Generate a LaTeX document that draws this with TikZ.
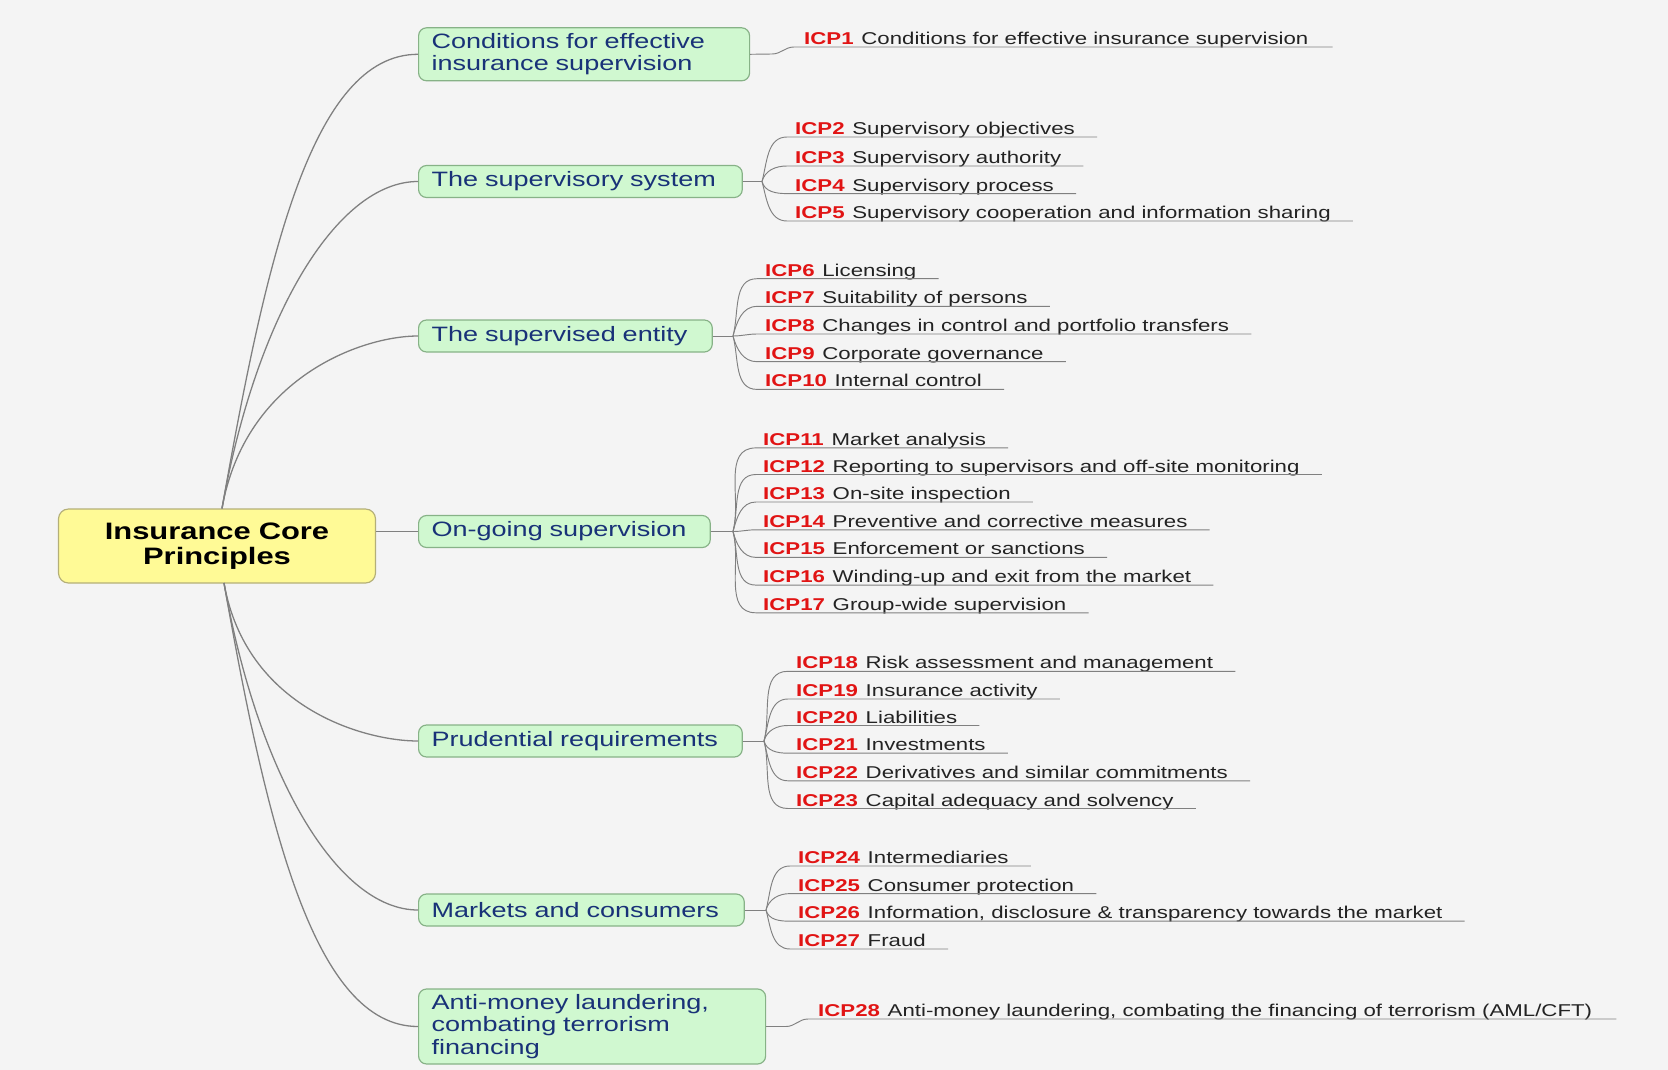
\documentclass[tikz,border=0pt]{standalone}
\usepackage{fontspec}
\setmainfont[FakeStretch=1.3]{Liberation Sans}
\usepackage{xcolor}
\usepackage{tikz}
\usetikzlibrary{positioning}

\definecolor{bgcol}{RGB}{244,244,244}
\definecolor{rootfill}{RGB}{255,250,150}
\definecolor{rootline}{RGB}{180,175,120}
\definecolor{boxfill}{RGB}{208,248,208}
\definecolor{boxline}{RGB}{135,178,135}
\definecolor{boxtext}{RGB}{25,50,120}
\definecolor{icpred}{RGB}{225,20,20}
\definecolor{itemtext}{RGB}{35,35,35}
\definecolor{linkcol}{RGB}{128,128,128}

\newcommand{\icp}[1]{\textbf{\color{icpred}#1}\hspace{0.45em}}

\tikzset{
  rootbox/.style={draw=rootline,fill=rootfill,line width=1pt,rounded corners=0.3cm,align=center,
    font=\fontsize{20.3}{21.8}\selectfont\bfseries,text width=8.91cm,minimum height=2.22cm,inner sep=0.3cm},
  areabox/.style={draw=boxline,fill=boxfill,line width=1pt,rounded corners=0.24cm,align=left,anchor=west,
    font=\fontsize{17.75}{19}\selectfont,text=boxtext,inner xsep=0.39cm,inner ysep=0.05cm,minimum height=0.96cm},
  item/.style={anchor=base west,inner sep=0pt,font=\fontsize{14.6}{16}\selectfont,text=itemtext},
  branch/.style={draw=linkcol,line width=1.1pt},
  twig/.style={draw=linkcol,line width=0.8pt}
}

\begin{document}
\begin{tikzpicture}[x=0.03cm,y=-0.03cm]
  \useasboundingbox (0,0) rectangle (1668,1070);
  \fill[bgcol] (0,0) rectangle (1668,1070);

  % centre and the seven areas
  \node[rootbox] (root) at (217,546) {Insurance Core\\Principles};
  \node[areabox,text width=9.15cm,minimum height=1.59cm] (b1) at (418,54.3) {Conditions for effective\\insurance supervision};
  \node[areabox,text width=8.93cm] (b2) at (418,181.5) {The supervisory system};
  \node[areabox,text width=8.03cm] (b3) at (418,336) {The supervised entity};
  \node[areabox,text width=7.97cm] (b4) at (418,531.5) {On-going supervision};
  \node[areabox,text width=8.93cm] (b5) at (418,741) {Prudential requirements};
  \node[areabox,text width=8.99cm] (b6) at (418,910) {Markets and consumers};
  \node[areabox,text width=9.63cm,minimum height=2.25cm] (b7) at (418,1026.5) {Anti-money laundering,\\combating terrorism\\financing};

  \coordinate (rt) at (222,508.5);
  \coordinate (rb) at (224,583);
  \foreach \b in {b1,b2,b3}
    \draw[branch] (rt) to[out=80,in=180,out looseness=1.3,in looseness=0.55] (\b.west);
  \foreach \b in {b5,b6,b7}
    \draw[branch] (rb) to[out=-80,in=180,out looseness=1.3,in looseness=0.55] (\b.west);
  \draw[branch] (root.east |- b4.west) -- (b4.west);

  % ICP1
  \coordinate (f1) at (772,54);
  \coordinate (u1) at (794,47);
  \node[item] (i1) at (804,44.5) {\icp{ICP1}Conditions for effective insurance supervision};
  \draw[twig] (b1.east) -- (f1) to[out=0,in=180] (u1) -- (u1 -| i1.east) -- ++(24,0);

  % ICP2-5
  \coordinate (f2) at (762,181.5);
  \draw[twig] (b2.east) -- (f2);
  \foreach \n/\y/\txt in {2/137/Supervisory objectives, 3/166/Supervisory authority,
      4/193.6/Supervisory process, 5/221/Supervisory cooperation and information sharing} {
    \pgfmathsetmacro\ang{abs(\y-181.5)<5 ? 0 : (\y<181.5 ? 75 : -75)}
    \coordinate (u\n) at (787,\y);
    \node[item] (i\n) at (795,\y-2.5) {\icp{ICP\n}\txt};
    \draw[twig] (f2) to[out=\ang,in=180] (u\n) -- (u\n -| i\n.east) -- ++(22,0);
  }

  % ICP6-10
  \coordinate (f3) at (733,336);
  \draw[twig] (b3.east) -- (f3);
  \foreach \n/\y/\txt in {6/278.7/Licensing, 7/306.4/Suitability of persons,
      8/334/Changes in control and portfolio transfers, 9/361.7/Corporate governance,
      10/389.4/Internal control} {
    \pgfmathsetmacro\ang{abs(\y-336)<5 ? 0 : (\y<336 ? 75 : -75)}
    \coordinate (u\n) at (757,\y);
    \node[item] (i\n) at (765,\y-2.5) {\icp{ICP\n}\txt};
    \draw[twig] (f3) to[out=\ang,in=180] (u\n) -- (u\n -| i\n.east) -- ++(22,0);
  }

  % ICP11-17
  \coordinate (f4) at (733,531.5);
  \draw[twig] (b4.east) -- (f4);
  \foreach \n/\y/\txt in {11/447.9/Market analysis, 12/474.5/Reporting to supervisors and off-site monitoring,
      13/502/On-site inspection, 14/529.8/Preventive and corrective measures,
      15/557.4/Enforcement or sanctions, 16/585.1/Winding-up and exit from the market,
      17/612.8/Group-wide supervision} {
    \pgfmathsetmacro\ang{abs(\y-531.5)<5 ? 0 : (\y<531.5 ? 75 : -75)}
    \coordinate (u\n) at (756,\y);
    \node[item] (i\n) at (763,\y-2.5) {\icp{ICP\n}\txt};
    \draw[twig] (f4) to[out=\ang,in=180] (u\n) -- (u\n -| i\n.east) -- ++(22,0);
  }

  % ICP18-23
  \coordinate (f5) at (764,741);
  \draw[twig] (b5.east) -- (f5);
  \foreach \n/\y/\txt in {18/671.3/Risk assessment and management, 19/699/Insurance activity,
      20/725.5/Liabilities, 21/753.2/Investments, 22/780.8/Derivatives and similar commitments,
      23/808.5/Capital adequacy and solvency} {
    \pgfmathsetmacro\ang{abs(\y-741)<5 ? 0 : (\y<741 ? 75 : -75)}
    \coordinate (u\n) at (788,\y);
    \node[item] (i\n) at (796,\y-2.5) {\icp{ICP\n}\txt};
    \draw[twig] (f5) to[out=\ang,in=180] (u\n) -- (u\n -| i\n.east) -- ++(22,0);
  }

  % ICP24-27
  \coordinate (f6) at (766,910);
  \draw[twig] (b6.east) -- (f6);
  \foreach \n/\y/\txt in {24/866/Intermediaries, 25/893.6/Consumer protection,
      26/921.2/{Information, disclosure \& transparency towards the market}, 27/949/Fraud} {
    \pgfmathsetmacro\ang{abs(\y-910)<5 ? 0 : (\y<910 ? 75 : -75)}
    \coordinate (u\n) at (790,\y);
    \node[item] (i\n) at (798,\y-2.5) {\icp{ICP\n}\txt};
    \draw[twig] (f6) to[out=\ang,in=180] (u\n) -- (u\n -| i\n.east) -- ++(22,0);
  }

  % ICP28
  \coordinate (f7) at (786,1026.5);
  \coordinate (u28) at (808,1019);
  \node[item] (i28) at (818,1016.5) {\icp{ICP28}Anti-money laundering, combating the financing of terrorism (AML/CFT)};
  \draw[twig] (b7.east) -- (f7) to[out=0,in=180] (u28) -- (u28 -| i28.east) -- ++(24,0);
\end{tikzpicture}
\end{document}
